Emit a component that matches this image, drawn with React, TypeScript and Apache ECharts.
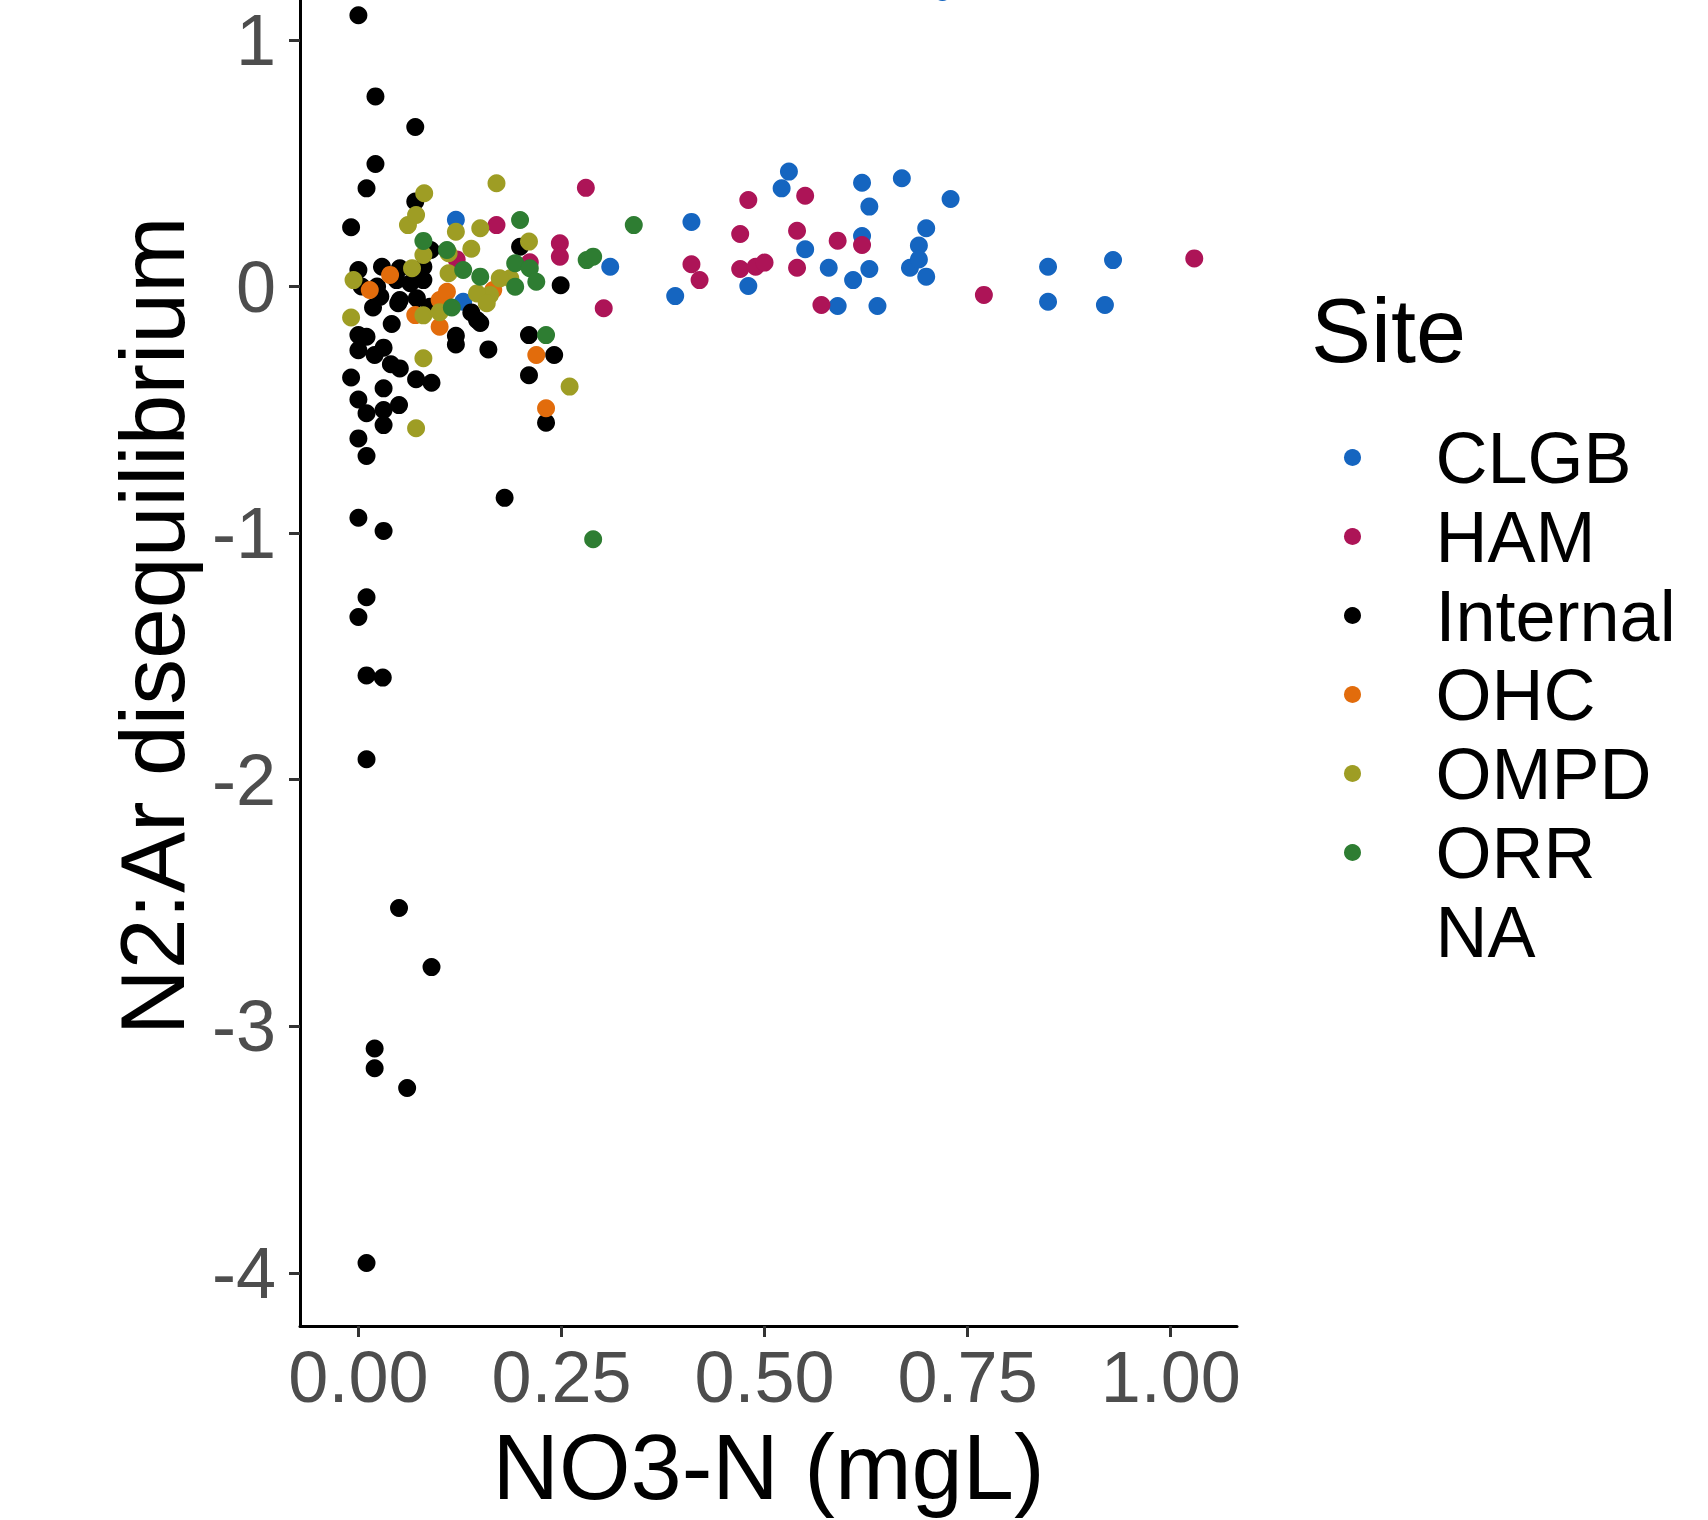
import React, { useEffect, useRef } from "react";
import * as echarts from "echarts";

const siteNames = ["CLGB", "HAM", "Internal", "OHC", "OMPD", "ORR", "NA"];
const siteColors = ["#1565C0", "#AD1457", "#000000", "#E26C0C", "#9E9D24", "#2E7D32", "rgba(0,0,0,0)"];

const xTicks = [0, 0.25, 0.5, 0.75, 1.0];
const yTicks = [-4, -3, -2, -1, 0, 1];

const clgb: number[][] = [
  [0.120, 0.271], [0.129, -0.062], [0.310, 0.080], [0.390, -0.039], [0.410, 0.262],
  [0.480, 0.002], [0.521, 0.398], [0.530, 0.466], [0.550, 0.151], [0.579, 0.076],
  [0.590, -0.079], [0.609, 0.026], [0.620, 0.421], [0.620, 0.205], [0.629, 0.324],
  [0.629, 0.071], [0.639, -0.079], [0.669, 0.439], [0.679, 0.076], [0.690, 0.166],
  [0.690, 0.110], [0.699, 0.236], [0.699, 0.040], [0.729, 0.355], [0.849, 0.080],
  [0.849, -0.062], [0.919, -0.075], [0.929, 0.107], [0.719, 1.194],
];

const ham: number[][] = [
  [0.121, 0.110], [0.170, 0.249], [0.211, 0.098], [0.248, 0.175], [0.248, 0.121],
  [0.280, 0.400], [0.302, -0.088], [0.410, 0.090], [0.420, 0.026], [0.470, 0.213],
  [0.470, 0.071], [0.480, 0.351], [0.489, 0.080], [0.500, 0.097], [0.540, 0.226],
  [0.540, 0.076], [0.550, 0.368], [0.570, -0.075], [0.590, 0.186], [0.620, 0.168],
  [0.770, -0.034], [1.029, 0.114],
];

const internal: number[][] = [
  [0.000, 1.100], [0.021, 0.771], [0.070, 0.647], [0.021, 0.497], [0.010, 0.398],
  [0.070, 0.345], [-0.009, 0.240], [0.199, 0.161], [0.089, 0.148], [0.249, 0.005],
  [0.000, 0.067], [0.029, 0.080], [0.051, 0.074], [0.080, 0.026], [0.080, 0.080],
  [0.004, 0.000], [0.023, 0.000], [0.047, 0.026], [0.064, 0.013], [0.027, -0.041],
  [0.051, -0.055], [0.072, -0.048], [0.018, -0.085], [0.049, -0.068], [0.041, -0.152],
  [0.146, -0.136], [0.088, -0.082], [0.139, -0.105], [0.150, -0.148], [0.120, -0.200],
  [0.120, -0.235], [0.160, -0.255], [0.210, -0.197], [0.241, -0.278], [0.210, -0.360],
  [0.231, -0.552], [0.180, -0.857],
  [0.000, -0.197], [0.010, -0.204], [0.000, -0.258], [0.020, -0.278], [0.031, -0.248],
  [0.040, -0.315], [0.051, -0.332], [-0.009, -0.369], [0.071, -0.376], [0.090, -0.390],
  [0.031, -0.413], [0.000, -0.458], [0.010, -0.514], [0.031, -0.501], [0.050, -0.481],
  [0.031, -0.562], [0.000, -0.616], [0.010, -0.687], [0.000, -0.938], [0.031, -0.991],
  [0.010, -1.260], [0.000, -1.340], [0.010, -1.577], [0.030, -1.586], [0.010, -1.917],
  [0.050, -2.520], [0.090, -2.760], [0.020, -3.090], [0.020, -3.170], [0.060, -3.250],
  [0.010, -3.960],
];

const ohc: number[][] = [
  [0.219, -0.278], [0.231, -0.494], [0.100, -0.163], [0.070, -0.116], [0.100, -0.055],
  [0.109, -0.021], [0.039, 0.047], [0.014, -0.014], [0.166, -0.014],
];

const ompd: number[][] = [
  [-0.009, -0.126], [0.080, -0.291], [0.071, -0.575], [0.260, -0.406], [0.080, -0.117],
  [0.100, -0.104], [0.162, -0.034], [0.146, -0.028], [0.158, -0.068], [0.111, 0.054],
  [0.080, 0.128], [0.111, 0.135], [0.139, 0.153], [0.120, 0.222], [0.150, 0.236],
  [0.210, 0.182], [0.187, 0.033], [0.174, 0.033], [0.061, 0.249], [0.071, 0.290],
  [0.081, 0.378], [0.170, 0.419], [-0.006, 0.026], [0.066, 0.074],
];

const orr: number[][] = [
  [0.199, 0.270], [0.339, 0.249], [0.080, 0.185], [0.109, 0.148], [0.129, 0.067],
  [0.150, 0.040], [0.193, 0.094], [0.211, 0.074], [0.219, 0.019], [0.193, -0.001],
  [0.281, 0.107], [0.289, 0.121], [0.115, -0.085], [0.231, -0.197], [0.289, -1.025],
];

const na: number[][] = [];

const seriesData = [clgb, ham, internal, ohc, ompd, orr, na];

const FONT = "'Liberation Sans', Arial, Helvetica, sans-serif";
const OFFSET = 74; // chart canvas starts above the visible page (the plot is cropped at the top)

export default function App() {
  const ref = useRef<HTMLDivElement>(null);
  useEffect(() => {
    if (!ref.current) return;
    const chart = echarts.init(ref.current, undefined, { renderer: "svg" });
    const option: any = {
      animation: false,
      backgroundColor: "#ffffff",
      grid: { left: 300, right: 471, top: 0, bottom: 194, containLabel: false },
      xAxis: {
        type: "value",
        min: -0.0719,
        max: 1.0816,
        name: "NO3-N (mgL)",
        nameLocation: "middle",
        nameGap: 95,
        nameTextStyle: { fontFamily: FONT, fontSize: 92, color: "#000000" },
        splitLine: { show: false },
        axisLine: { show: true, onZero: false, lineStyle: { color: "#000000", width: 3 } },
        axisTick: { show: true, customValues: xTicks, length: 11, lineStyle: { color: "#333333", width: 3 } },
        axisLabel: {
          customValues: xTicks,
          formatter: (v: number) => v.toFixed(2),
          fontFamily: FONT,
          fontSize: 72,
          color: "#4D4D4D",
          margin: 15,
        },
      },
      yAxis: {
        type: "value",
        min: -4.2153,
        max: 1.4619,
        name: "N2:Ar disequilibrium",
        nameLocation: "middle",
        nameGap: 102,
        nameTextStyle: { fontFamily: FONT, fontSize: 91.5, color: "#000000" },
        splitLine: { show: false },
        axisLine: { show: true, onZero: false, lineStyle: { color: "#000000", width: 3 } },
        axisTick: { show: true, customValues: yTicks, length: 11, lineStyle: { color: "#333333", width: 3 } },
        axisLabel: {
          customValues: yTicks,
          formatter: (v: number) => String(v),
          fontFamily: FONT,
          fontSize: 72,
          color: "#4D4D4D",
          margin: 24,
        },
      },
      legend: {
        orient: "vertical",
        left: 1339,
        top: 418 - 5 + OFFSET,
        itemWidth: 156,
        itemHeight: 17,
        itemGap: 0,
        icon: "circle",
        data: siteNames,
        selectedMode: false,
        textStyle: { fontFamily: FONT, fontSize: 72, color: "#000000", lineHeight: 79 },
      },
      graphic: [
        {
          type: "text",
          left: 1311,
          top: 334 - 48 + OFFSET,
          style: { text: "Site", fontFamily: FONT, fontSize: 90, fill: "#000000" },
        },
      ],
      series: siteNames.map((name, i) => ({
        name,
        type: "scatter",
        data: seriesData[i],
        symbol: "circle",
        symbolSize: 18,
        clip: false,
        itemStyle: { color: siteColors[i], opacity: 1 },
        emphasis: { disabled: true },
      })),
    };
    chart.setOption(option);
    return () => chart.dispose();
  }, []);
  return (
    <div style={{ position: "absolute", left: 0, top: 0, width: 1708, height: 1520, overflow: "hidden", background: "#fff" }}>
      <div
        ref={ref}
        style={{ position: "absolute", left: 0, top: -OFFSET, width: 1708, height: 1520 + OFFSET }}
      />
    </div>
  );
}
